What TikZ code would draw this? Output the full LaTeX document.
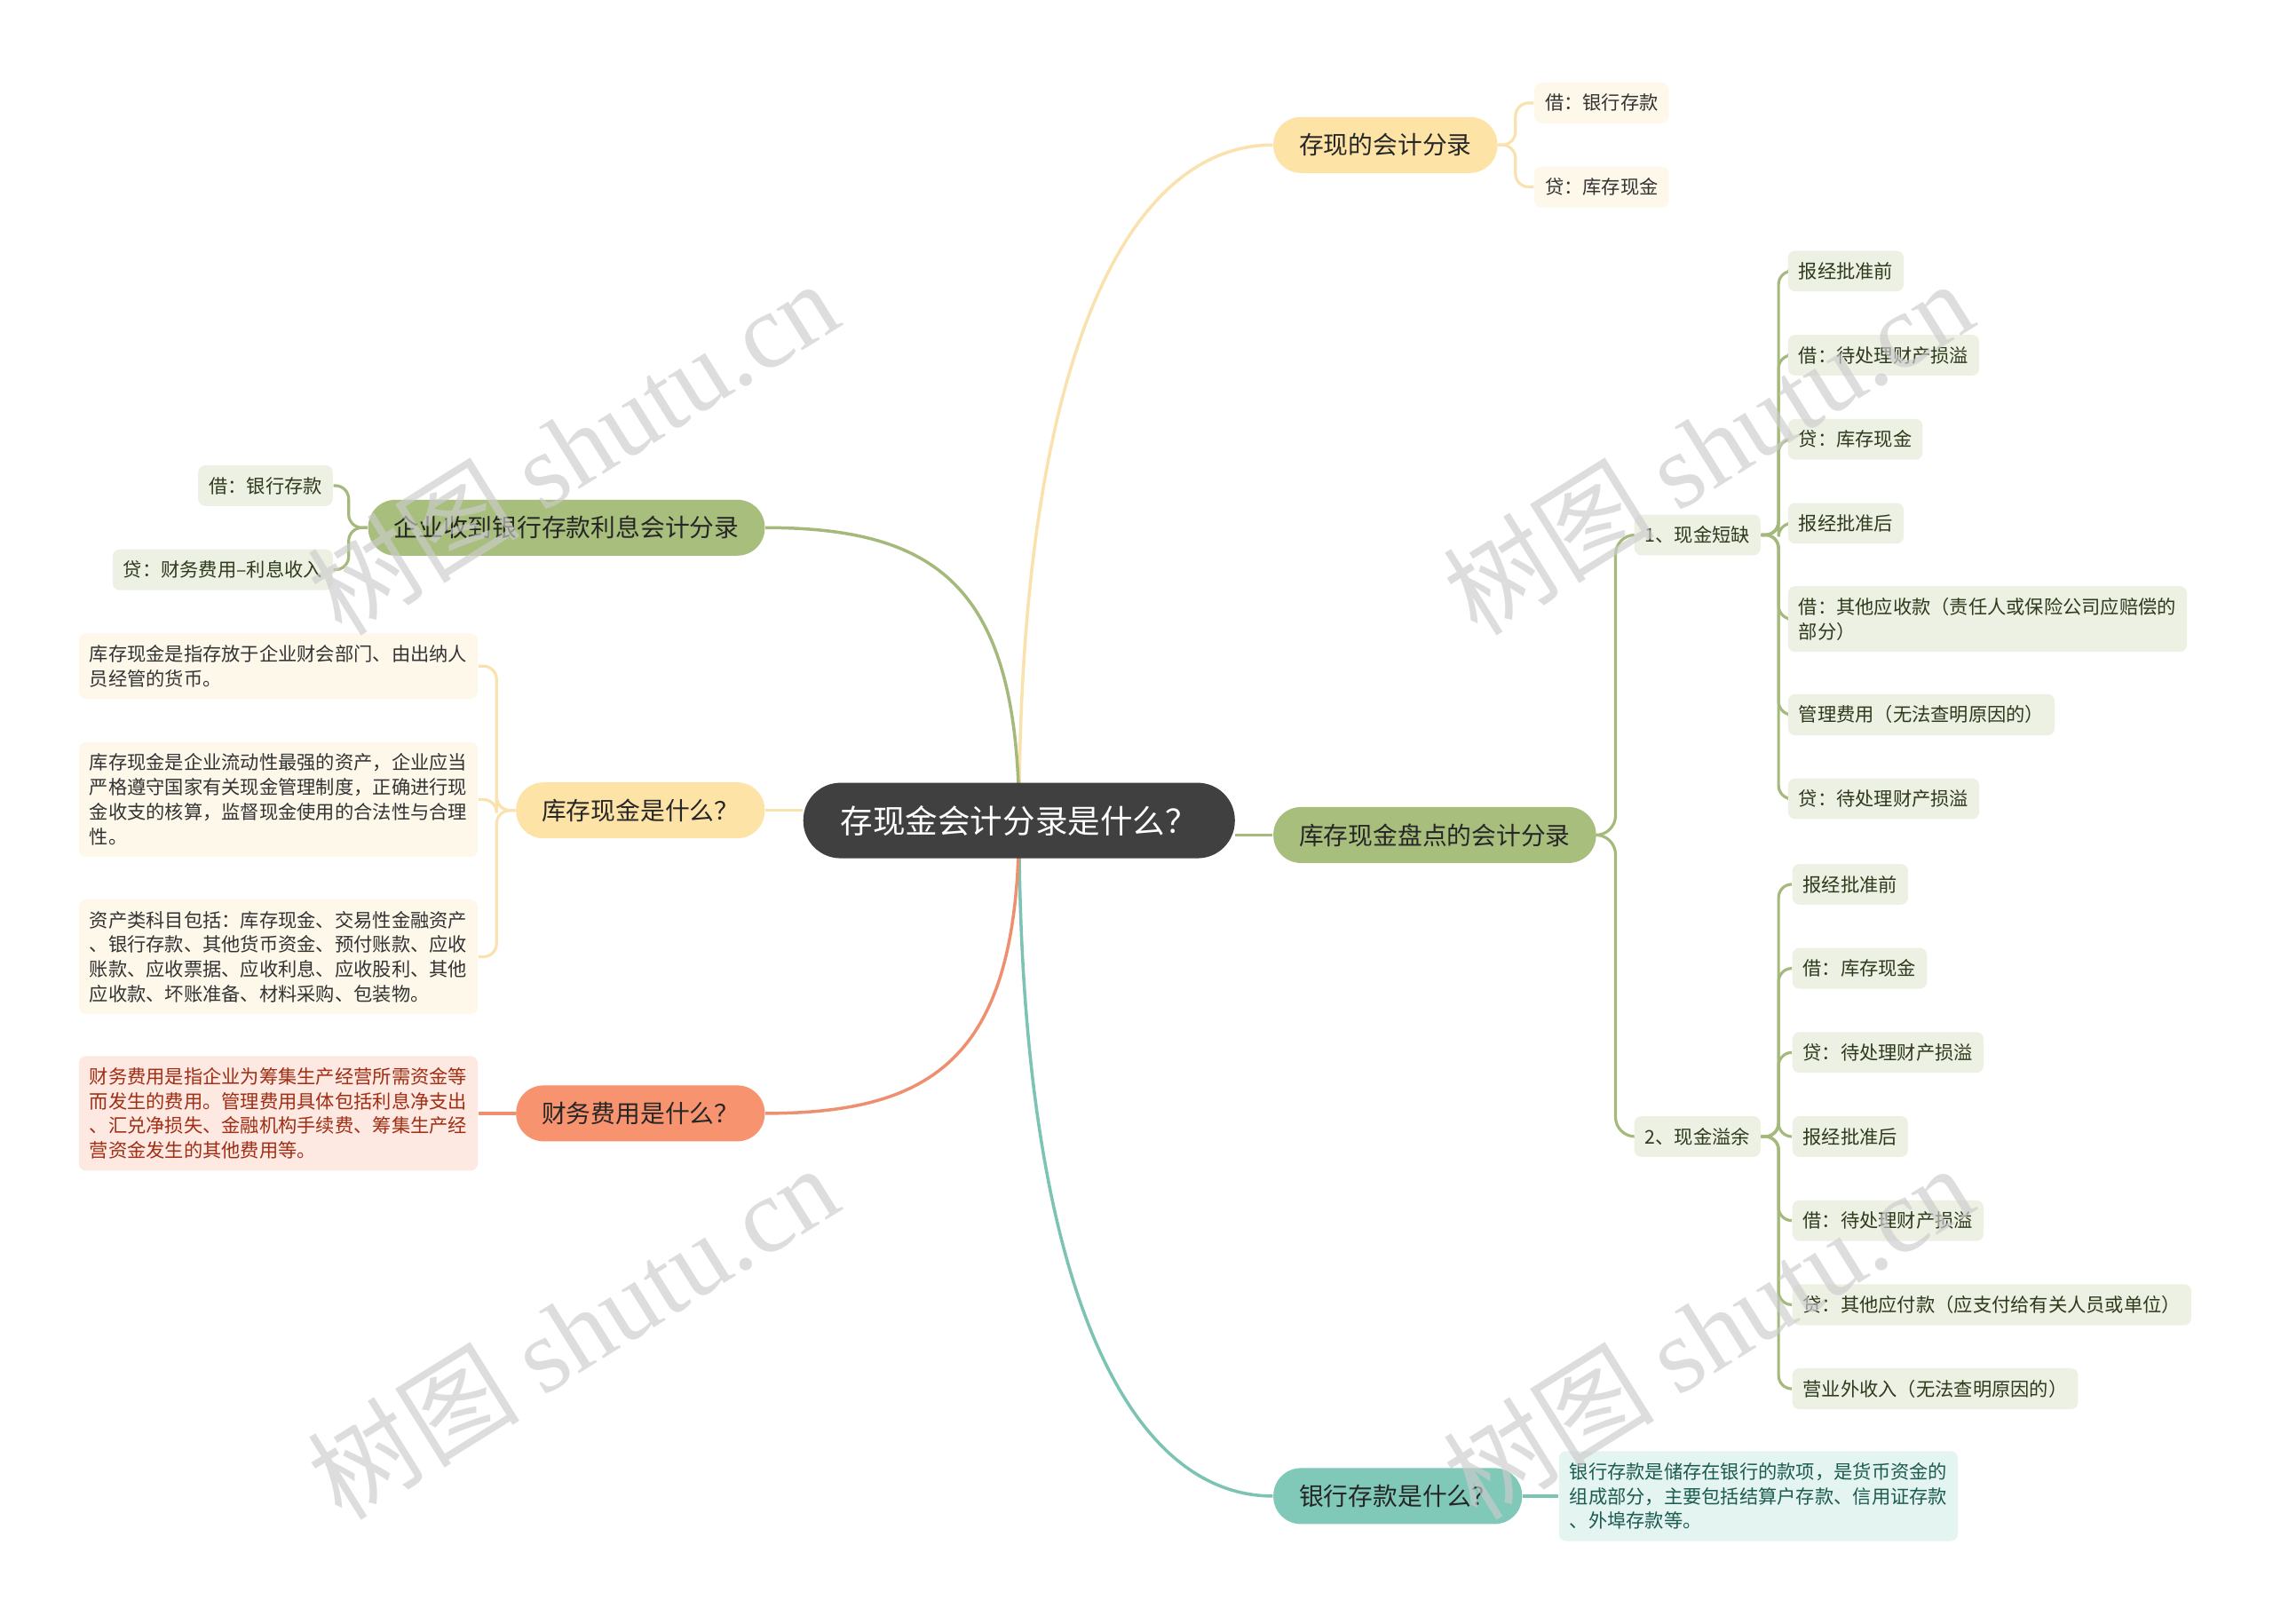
\documentclass[tikz,border=0pt]{standalone}
\usepackage{fontspec}
\newfontfamily\cjk{Noto Sans CJK SC}
\newfontfamily\wmserif{Liberation Serif}
\usetikzlibrary{backgrounds}

\definecolor{rootgray}{HTML}{404040}
\definecolor{ylwfill}{HTML}{FDE3A6}
\definecolor{ylwline}{HTML}{F9E2AD}
\definecolor{ylwleaf}{HTML}{FDF8EA}
\definecolor{grnfill}{HTML}{A8BE7D}
\definecolor{grnline}{HTML}{A4B97B}
\definecolor{grnleaf}{HTML}{EDF1E4}
\definecolor{grntext}{HTML}{2E3A1C}
\definecolor{tealfill}{HTML}{80C9B9}
\definecolor{tealline}{HTML}{7CC3B3}
\definecolor{tealleaf}{HTML}{E4F4F0}
\definecolor{tealtext}{HTML}{1C5B50}
\definecolor{salfill}{HTML}{F7936F}
\definecolor{salline}{HTML}{EE9070}
\definecolor{salleaf}{HTML}{FDE9E2}
\definecolor{saltext}{HTML}{A02E14}

\begin{document}
\begin{tikzpicture}[
  x=0.016327cm, y=-0.016327cm,
  root/.style={
    rectangle,
    rounded corners=0.42cm,
    fill=rootgray,
    text=white,
    minimum height=0.85cm,
    inner xsep=0.42cm,
    font=\cjk\fontsize{10.4}{12}\selectfont
  },
  branch/.style={
    rectangle,
    rounded corners=0.31cm,
    minimum height=0.63cm,
    inner xsep=0.29cm,
    text=black!85,
    font=\cjk\fontsize{7.9}{9.5}\selectfont
  },
  leaf/.style={
    rectangle,
    rounded corners=0.08cm,
    minimum height=0.457cm,
    inner xsep=0.12cm,
    inner ysep=0.13cm,
    align=left,
    text=black!80,
    font=\cjk\fontsize{6.05}{7.9}\selectfont
  },
  gleaf/.style={leaf,fill=grnleaf,text=grntext},
  link/.style={line width=1pt},
  twig/.style={line width=0.9pt,rounded corners=0.15cm},
  wmark/.style={
    text=gray!40,
    opacity=0.65,
    rotate=32,
    font=\cjk\fontsize{34}{40}\selectfont
  }
]
  \useasboundingbox (0,0) rectangle (1568,1120);

  \node[root] (root) at (703,566) {存现金会计分录是什么？};

  % right side
  \node[branch,fill=ylwfill,anchor=west] (cxdk) at (878,100) {存现的会计分录};
  \node[branch,fill=grnfill,anchor=west] (pdkj) at (878,576) {库存现金盘点的会计分录};
  \node[branch,fill=tealfill,anchor=west] (yhck) at (878,1032) {银行存款是什么？};

  \node[leaf,fill=ylwleaf,anchor=west] (jyh) at (1058,71) {借：银行存款};
  \node[leaf,fill=ylwleaf,anchor=west] (dkc) at (1058,129) {贷：库存现金};

  \node[gleaf,anchor=west] (dq) at (1127,369) {1、现金短缺};
  \node[gleaf,anchor=west] (yy) at (1127,784) {2、现金溢余};

  \node[gleaf,anchor=west] (dq1) at (1233,187) {报经批准前};
  \node[gleaf,anchor=west] (dq2) at (1233,245) {借：待处理财产损溢};
  \node[gleaf,anchor=west] (dq3) at (1233,303) {贷：库存现金};
  \node[gleaf,anchor=west] (dq4) at (1233,361) {报经批准后};
  \node[gleaf,anchor=west] (dq5) at (1233,427) {借：其他应收款（责任人或保险公司应赔偿的\\部分）};
  \node[gleaf,anchor=west] (dq6) at (1233,493) {管理费用（无法查明原因的）};
  \node[gleaf,anchor=west] (dq7) at (1233,551) {贷：待处理财产损溢};

  \node[gleaf,anchor=west] (yy1) at (1236,610) {报经批准前};
  \node[gleaf,anchor=west] (yy2) at (1236,668) {借：库存现金};
  \node[gleaf,anchor=west] (yy3) at (1236,726) {贷：待处理财产损溢};
  \node[gleaf,anchor=west] (yy4) at (1236,784) {报经批准后};
  \node[gleaf,anchor=west] (yy5) at (1236,842) {借：待处理财产损溢};
  \node[gleaf,anchor=west] (yy6) at (1236,900) {贷：其他应付款（应支付给有关人员或单位）};
  \node[gleaf,anchor=west] (yy7) at (1236,958) {营业外收入（无法查明原因的）};

  \node[leaf,fill=tealleaf,text=tealtext,anchor=west] (yh1) at (1075,1032)
    {银行存款是储存在银行的款项，是货币资金的\\组成部分，主要包括结算户存款、信用证存款\\、外埠存款等。};

  % left side
  \node[branch,fill=grnfill,anchor=east] (lxkj) at (528,364) {企业收到银行存款利息会计分录};
  \node[branch,fill=ylwfill,anchor=east] (kcxj) at (528,559) {库存现金是什么？};
  \node[branch,fill=salfill,anchor=east] (cwfy) at (528,768) {财务费用是什么？};

  \node[gleaf,anchor=east] (ljyh) at (230,335) {借：银行存款};
  \node[gleaf,anchor=east] (ldcw) at (230,393) {贷：财务费用–利息收入};

  \node[leaf,fill=ylwleaf,anchor=east] (kx1) at (330,459.5)
    {库存现金是指存放于企业财会部门、由出纳人\\员经管的货币。};
  \node[leaf,fill=ylwleaf,anchor=east] (kx2) at (330,551.5)
    {库存现金是企业流动性最强的资产，企业应当\\严格遵守国家有关现金管理制度，正确进行现\\金收支的核算，监督现金使用的合法性与合理\\性。};
  \node[leaf,fill=ylwleaf,anchor=east] (kx3) at (330,660)
    {资产类科目包括：库存现金、交易性金融资产\\、银行存款、其他货币资金、预付账款、应收\\账款、应收票据、应收利息、应收股利、其他\\应收款、坏账准备、材料采购、包装物。};

  \node[leaf,fill=salleaf,text=saltext,anchor=east] (cw1) at (330,768)
    {财务费用是指企业为筹集生产经营所需资金等\\而发生的费用。管理费用具体包括利息净支出\\、汇兑净损失、金融机构手续费、筹集生产经\\营资金发生的其他费用等。};

  \begin{scope}[on background layer]
    \fill[white] (0,0) rectangle (1568,1120);
    \draw[link,ylwline] (root.center) .. controls +(0,-320) and +(-100,0) .. (cxdk.west);
    \draw[link,grnline] (root.east |- pdkj.west) -- (pdkj.west);
    \draw[link,tealline] (root.center) .. controls +(0,320) and +(-100,0) .. (yhck.west);
    \draw[link,grnline] (root.center) .. controls +(0,-160) and +(120,0) .. (lxkj.east);
    \draw[link,ylwline] (root.west |- kcxj.east) -- (kcxj.east);
    \draw[link,salline] (root.center) .. controls +(0,160) and +(120,0) .. (cwfy.east);

    \foreach \c in {jyh,dkc}
      \draw[twig,ylwline] (cxdk.east) -- ++(12,0) |- (\c.west);
    \foreach \c in {dq,yy}
      \draw[twig,grnline,rounded corners=0.22cm] (pdkj.east) -- ++(13,0) |- (\c.west);
    \foreach \i in {1,...,7} {
      \draw[twig,grnline] (dq.east) -- ++(12,0) |- (dq\i.west);
      \draw[twig,grnline] (yy.east) -- ++(12,0) |- (yy\i.west);
    }
    \draw[link,tealline] (yhck.east) -- (yh1.west);

    \foreach \c in {ljyh,ldcw}
      \draw[twig,grnline] (lxkj.west) -- ++(-13,0) |- (\c.east);
    \foreach \c in {kx1,kx2,kx3}
      \draw[twig,ylwline] (kcxj.west) -- ++(-13,0) |- (\c.east);
    \draw[link,salline] (cwfy.west) -- (cw1.east);
  \end{scope}

  % watermarks
  \node[wmark] (wm1) at (395,308) {树图 {\wmserif shutu.cn}};
  \node[wmark] (wm2) at (395,918) {树图 {\wmserif shutu.cn}};
  \node[wmark] (wm3) at (1178,308) {树图 {\wmserif shutu.cn}};
  \node[wmark] (wm4) at (1178,918) {树图 {\wmserif shutu.cn}};
\end{tikzpicture}
\end{document}
